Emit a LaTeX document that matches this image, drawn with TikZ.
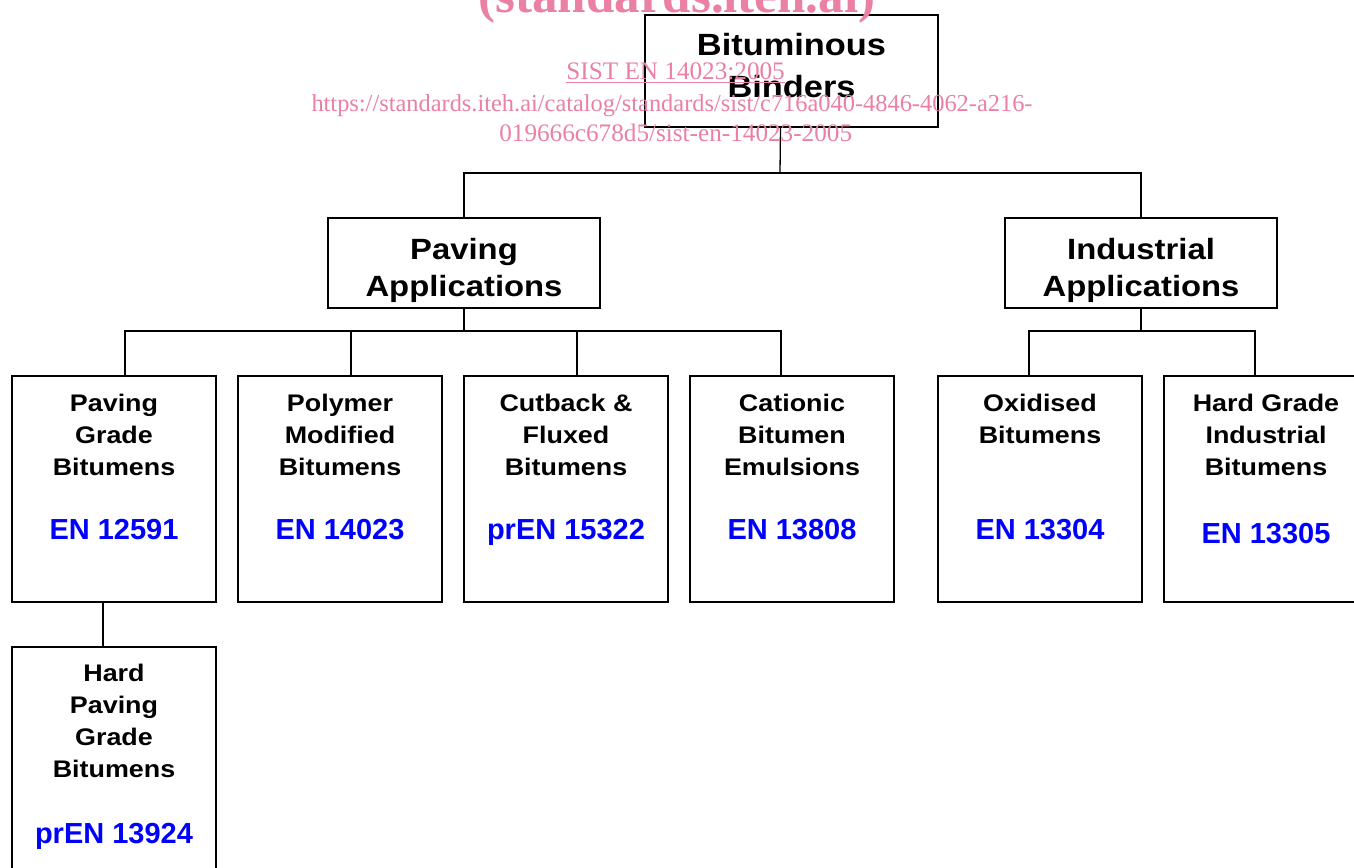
\documentclass[tikz,border=0pt]{standalone}
\usepackage{fontspec}
\setmainfont{Liberation Sans}
\newfontfamily\boxfont{Liberation Sans}[FakeStretch=1.12]
\newfontfamily\markfont{Liberation Serif}
\usepackage{xcolor}
\usetikzlibrary{positioning}
\definecolor{markpink}{RGB}{234,128,162}
\definecolor{stdblue}{RGB}{0,0,255}

\begin{document}
\begin{tikzpicture}[
    x=1pt, y=-1pt,
    box/.style={draw, line width=2pt, fill=white, inner sep=0pt, outer sep=0pt},
    rootbox/.style={box, minimum width=293pt, minimum height=112pt},
    appbox/.style={box, minimum width=272pt, minimum height=90pt},
    leafbox/.style={box, minimum width=204pt, minimum height=226pt},
    lbl/.style={inner sep=0pt, align=center, font=\boxfont\bfseries\fontsize{24}{32}\selectfont},
    biglbl/.style={lbl, font=\boxfont\bfseries\fontsize{29.3}{37.3}\selectfont},
    rootlbl/.style={lbl, font=\boxfont\bfseries\fontsize{30.7}{42}\selectfont},
    std/.style={inner sep=0pt, text=stdblue, font=\bfseries\fontsize{29}{32}\selectfont},
    link/.style={line width=1.3pt},
    wmark/.style={inner sep=0pt, anchor=base, text=markpink, font=\markfont\fontsize{25.2}{30}\selectfont}
]
\useasboundingbox (0,0) rectangle (1354,867);
\clip (0,0) rectangle (1354,867);

% boxes
\node[rootbox] (root) at (791.5,71) {};
\node[appbox] (paving) at (464,263) {};
\node[appbox] (industrial) at (1141,263) {};
\node[leafbox] (pgb) at (114,489) {};
\node[leafbox, right=22pt of pgb] (pmb) {};
\node[leafbox, right=22pt of pmb] (cfb) {};
\node[leafbox, right=22pt of cfb] (cbe) {};
\node[leafbox, right=44pt of cbe] (oxb) {};
\node[leafbox, right=22pt of oxb] (hgi) {};
\node[leafbox, below=45pt of pgb] (hpg) {};

% texts
\node[rootlbl, below=18pt of root.north] (roott) {Bituminous\\Binders};
\node[biglbl, below=20pt of paving.north] (pavingt) {Paving\\Applications};
\node[biglbl, below=20pt of industrial.north] (industrialt) {Industrial\\Applications};
\node[lbl, below=18pt of pgb.north] (pgbt) {Paving\\Grade\\Bitumens};
\node[lbl, below=18pt of pmb.north] (pmbt) {Polymer\\Modified\\Bitumens};
\node[lbl, below=18pt of cfb.north] (cfbt) {Cutback \&\\Fluxed\\Bitumens};
\node[lbl, below=18pt of cbe.north] (cbet) {Cationic\\Bitumen\\Emulsions};
\node[lbl, below=18pt of oxb.north] (oxbt) {Oxidised\\Bitumens};
\node[lbl, below=18pt of hgi.north] (hgit) {Hard Grade\\Industrial\\Bitumens};
\node[lbl, below=17pt of hpg.north] (hpgt) {Hard\\Paving\\Grade\\Bitumens};
\node[std, below=143pt of pgb.north] (pgbs) {EN 12591};
\node[std, below=143pt of pmb.north] (pmbs) {EN 14023};
\node[std, below=143pt of cfb.north] (cfbs) {prEN 15322};
\node[std, below=143pt of cbe.north] (cbes) {EN 13808};
\node[std, below=143pt of oxb.north] (oxbs) {EN 13304};
\node[std, below=147pt of hgi.north] (hgis) {EN 13305};
\node[std, below=176pt of hpg.north] (hpgs) {prEN 13924};

% connectors
\coordinate (topbus) at (780,173);
\coordinate (pavbus) at (464,331);
\coordinate (indbus) at (1141,331);
\draw[link] ([xshift=-11pt]root.south) -- (topbus);
\draw[link] (paving.north) |- (topbus) -| (industrial.north);
\draw[link] (paving.south) -- (pavbus);
\draw[link] ([xshift=11pt]pgb.north) |- (pavbus) -| ([xshift=-11pt]cbe.north);
\draw[link] ([xshift=11pt]pmb.north) -- ([xshift=11pt]pmb.north |- pavbus);
\draw[link] ([xshift=11pt]cfb.north) -- ([xshift=11pt]cfb.north |- pavbus);
\draw[link] (industrial.south) -- (indbus);
\draw[link] ([xshift=-11pt]oxb.north) |- (indbus) -| ([xshift=-11pt]hgi.north);
\draw[link] ([xshift=-11pt]pgb.south) -- ([xshift=-11pt]hpg.north);

% watermark
\node[wmark, font=\markfont\bfseries\fontsize{51}{51}\selectfont] (wsite) at (677,13) {(standards.iteh.ai)};
\node[wmark] (wsist) at (675.6,80) {\underline{SIST EN 14023:2005}};
\node[wmark, font=\markfont\fontsize{24.4}{30}\selectfont] (wurl) at (672,111.7) {https://standards.iteh.ai/catalog/standards/sist/c716a040-4846-4062-a216-};
\node[wmark] (wurlb) at (675.7,141.7) {019666c678d5/sist-en-14023-2005};
\end{tikzpicture}
\end{document}
